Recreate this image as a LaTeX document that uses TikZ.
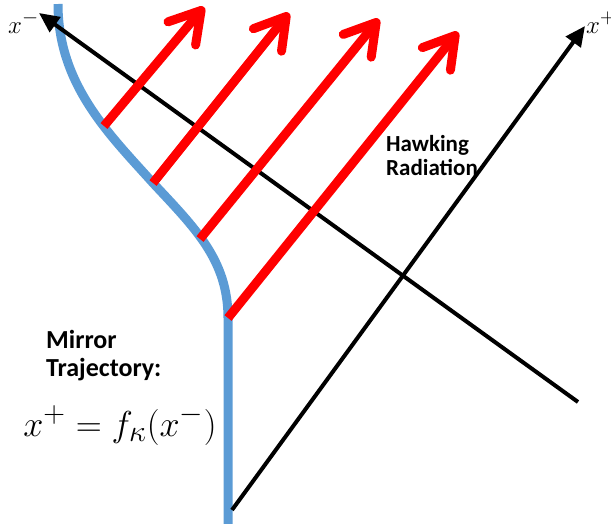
\documentclass[tikz,border=0pt]{standalone}
\usepackage{fontspec}
\newfontfamily\notefont{Carlito}
\usetikzlibrary{arrows.meta}
\definecolor{mirrorblue}{RGB}{91,155,213}
\tikzset{
  mirror/.style={draw=mirrorblue, line width=9pt},
  axis/.style={draw=black, line width=4pt, -{Triangle[length=20pt,width=18pt]}},
  ray/.style={draw=red, line width=9pt, -{Straight Barb[round,length=30pt,width=36pt]}},
  note/.style={font=\notefont\bfseries\fontsize{26}{28}\selectfont, align=left, inner sep=0pt},
  smallnote/.style={font=\notefont\bfseries\fontsize{23}{24}\selectfont, align=left, inner sep=0pt},
  coordlabel/.style={font=\Huge, inner sep=0pt},
  eqlabel/.style={font=\Huge, scale=1.45, inner sep=0pt}
}
\begin{document}
\begin{tikzpicture}[x=1pt,y=-1pt]
\useasboundingbox (0,0) rectangle (611,523);
% mirror trajectory
\coordinate (mtop) at (58,4);
\coordinate (e1)   at (104,126);
\coordinate (e2)   at (153,183);
\coordinate (e3)   at (200,239);
\coordinate (e4)   at (228,318);
\coordinate (mbot) at (228,530);
\draw[mirror] (mtop) .. controls (58,85) and (110,135) .. (e2)
  .. controls (195,228) and (228,260) .. (e4) -- (mbot);
% light cone axes
\coordinate (xmtail) at (578,402);
\coordinate (xmtip)  at (39,13);
\coordinate (xptail) at (232,510);
\coordinate (xptip)  at (585,26);
\draw[axis] (xmtail) -- (xmtip);
\draw[axis] (xptail) -- (xptip);
% outgoing rays
\coordinate (t1) at (204,7);
\coordinate (t2) at (289,13);
\coordinate (t3) at (379,19);
\coordinate (t4) at (458,32);
\draw[ray] (e1) -- (t1);
\draw[ray] (e2) -- (t2);
\draw[ray] (e3) -- (t3);
\draw[ray] (e4) -- (t4);
% labels
\node[coordlabel, anchor=base west] (xmlabel) at (8,33) {$x^-$};
\node[coordlabel, anchor=base west] (xplabel) at (586,33) {$x^+$};
\node[smallnote, anchor=north west] (hawking) at (386,135) {Hawking\\Radiation};
\node[note, anchor=north west] (mirrortext) at (46,330) {Mirror\\Trajectory:};
\node[eqlabel, anchor=base west] (law) at (23,436) {$x^+ = f_\kappa(x^-)$};
\end{tikzpicture}
\end{document}
